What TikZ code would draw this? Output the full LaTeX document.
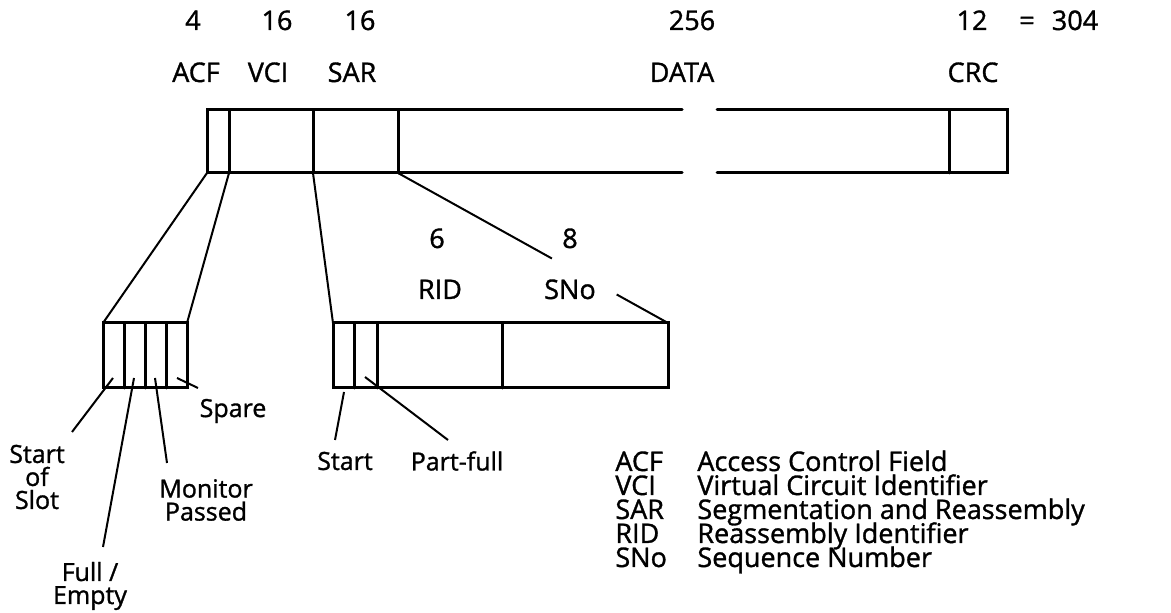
\documentclass[tikz,border=0pt]{standalone}
\usepackage{fontspec}
\setmainfont{Open Sans}[FakeBold=1.2]
\usetikzlibrary{calc}

\begin{document}
\begin{tikzpicture}[
  x=0.5pt,
  y=-0.5pt,
  frame/.style={line width=1.5pt, line cap=round},
  leader/.style={line width=1pt},
  hdr/.style={font=\fontsize{13.5}{16}\selectfont, inner sep=0pt, anchor=base},
  tag/.style={font=\fontsize{12.5}{11.5}\selectfont, align=center, inner sep=0pt},
  abbr/.style={font=\fontsize{13.5}{16}\selectfont, anchor=base west, inner sep=0pt},
]
\useasboundingbox (0,0) rectangle (1171,613);

% header: sizes and field names
\node[hdr] (szAcf) at (193,30) {4};
\node[hdr] (szVci) at (277,30) {16};
\node[hdr] (szSar) at (360,30) {16};
\node[hdr] (szData) at (692,30) {256};
\node[hdr] (szCrc) at (972,30) {12};
\node[hdr] (szEq) at (1027,30) {=};
\node[hdr] (szTotal) at (1075,30) {304};

\node[hdr] (nmAcf) at (196,82) {ACF};
\node[hdr] (nmVci) at (268,82) {VCI};
\node[hdr] (nmSar) at (352,82) {SAR};
\node[hdr] (nmData) at (682,82) {DATA};
\node[hdr] (nmCrc) at (973,82) {CRC};

% slot frame, broken in the DATA field
\coordinate (acfBL) at (207,173);
\coordinate (vciBL) at (229,173);
\coordinate (sarBL) at (313,173);
\coordinate (dataBL) at (398,173);
\draw[frame] (682,110) -- (207,110) -- (207,173) -- (682,173);
\draw[frame] (717,110) -- (1007,110) -- (1007,173) -- (717,173);
\foreach \x in {229,313,398,949}
  \draw[frame] (\x,110) -- (\x,173);

% ACF expanded
\coordinate (acfSubTL) at (103,323);
\coordinate (acfSubTR) at (187,323);
\draw[frame] (103,323) rectangle (187,388);
\foreach \x in {124,145,166}
  \draw[frame] (\x,323) -- (\x,388);
\draw[leader] (acfBL) -- (acfSubTL);
\draw[leader] (vciBL) -- (acfSubTR);

% SAR expanded
\coordinate (sarSubTL) at (333,323);
\coordinate (sarSubTR) at (668,323);
\draw[frame] (333,323) rectangle (668,388);
\foreach \x in {354,377,502}
  \draw[frame] (\x,323) -- (\x,388);
\draw[leader] (sarBL) -- (sarSubTL);
\draw[leader] (dataBL) -- ($(dataBL)!0.57!(sarSubTR)$);
\draw[leader] ($(dataBL)!0.81!(sarSubTR)$) -- (sarSubTR);

\node[hdr] (szRid) at (437,248) {6};
\node[hdr] (szSno) at (570,248) {8};
\node[hdr] (nmRid) at (440,299) {RID};
\node[hdr] (nmSno) at (570,299) {SNo};

% bit labels of ACF
\node[tag] (lbSlot) at (37,477) {Start\\of\\Slot};
\node[tag] (lbFull) at (90,586) {Full /\\Empty};
\node[tag] (lbMon) at (206,500) {Monitor\\Passed};
\node[tag] (lbSpare) at (233,411) {Spare};
\coordinate (ptSlot) at (113,378);
\coordinate (ptFull) at (134,378);
\coordinate (ptMon) at (155,378);
\coordinate (ptSpare) at (177,378);
\coordinate (endSlot) at (72,432);
\coordinate (endFull) at (103,547);
\coordinate (endMon) at (167,463);
\coordinate (endSpare) at (198,388);
\draw[leader] (ptSlot) -- (endSlot);
\draw[leader] (ptFull) -- (endFull);
\draw[leader] (ptMon) -- (endMon);
\draw[leader] (ptSpare) -- (endSpare);

% bit labels of SAR
\node[tag] (lbStart) at (345,461) {Start};
\node[tag] (lbPart) at (457,461) {Part-full};
\coordinate (ptStart) at (344,392);
\coordinate (ptPart) at (365,377);
\coordinate (endStart) at (335,440);
\coordinate (endPart) at (448,440);
\draw[leader] (ptStart) -- (endStart);
\draw[leader] (ptPart) -- (endPart);

% legend
\node[abbr] (abAcf) at (615,471) {ACF};
\node[abbr] (abVci) at (615,495) {VCI};
\node[abbr] (abSar) at (615,519) {SAR};
\node[abbr] (abRid) at (615,543) {RID};
\node[abbr] (abSno) at (615,567) {SNo};
\node[abbr] (dsAcf) at (697,471) {Access Control Field};
\node[abbr] (dsVci) at (697,495) {Virtual Circuit Identifier};
\node[abbr] (dsSar) at (697,519) {Segmentation and Reassembly};
\node[abbr] (dsRid) at (697,543) {Reassembly Identifier};
\node[abbr] (dsSno) at (697,567) {Sequence Number};

\end{tikzpicture}
\end{document}
